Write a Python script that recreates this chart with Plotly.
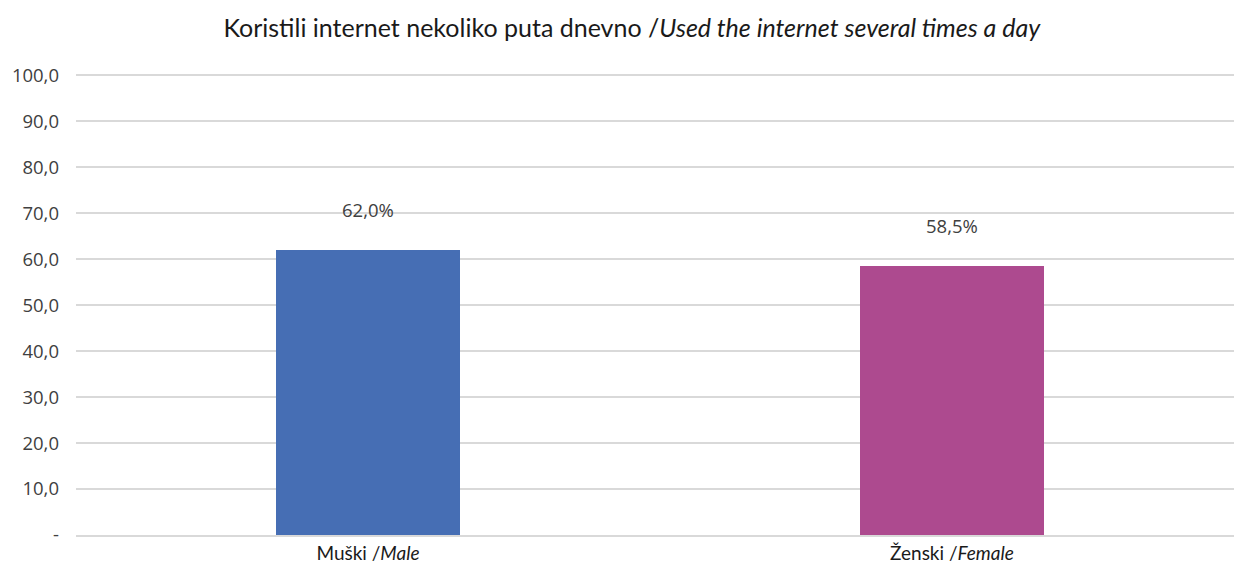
import plotly.graph_objects as go

categories = ["Muški /<i>Male</i>", "Ženski /<i>Female</i>"]
values = [62.0, 58.5]
value_labels = ["62,0%", "58,5%"]
colors = ["#466EB4", "#AD4A8F"]
y_tickvals = [0, 10, 20, 30, 40, 50, 60, 70, 80, 90, 100]
y_ticktext = ["-", "10,0", "20,0", "30,0", "40,0", "50,0", "60,0", "70,0", "80,0", "90,0", "100,0"]
title_text = "Koristili internet nekoliko puta dnevno /<i>Used the internet several times a day</i>"

fig = go.Figure()
fig.add_trace(go.Bar(
    x=categories, y=values, marker=dict(color=colors, line=dict(width=0)),
    width=0.314, hoverinfo="skip", showlegend=False,
))

for c, v, t in zip(categories, values, value_labels):
    fig.add_annotation(x=c, y=v, text=t, showarrow=False, yanchor="bottom", yshift=26,
                       font=dict(family="Open Sans", size=18.5, color="#404040"))

fig.update_layout(
    width=1234, height=565,
    margin=dict(l=76, r=0, t=74, b=30),
    paper_bgcolor="white", plot_bgcolor="white",
    title=dict(text=title_text, x=0.512, xanchor="center", y=0.95, yanchor="middle",
               font=dict(family="Lato", size=25, color="#1a1a1a")),
    bargap=0,
)
fig.update_yaxes(range=[0, 100.25], tickvals=y_tickvals, ticktext=y_ticktext,
                 showgrid=True, gridcolor="#D9D9D9", gridwidth=1.5, zeroline=False,
                 ticks="", ticklabelstandoff=16,
                 tickfont=dict(family="Open Sans", size=18.5, color="#404040"),
                 showline=False, fixedrange=True)
fig.update_xaxes(type="category", range=[-0.5, 1.483], showgrid=False, ticks="",
                 showline=True, linecolor="#D9D9D9", linewidth=1.5,
                 tickfont=dict(family="Lato", size=19, color="#1a1a1a"), fixedrange=True)

fig.write_html("out.html", config={"displayModeBar": False})
